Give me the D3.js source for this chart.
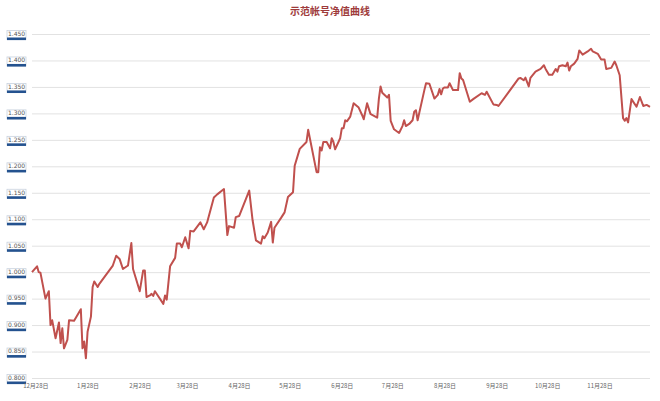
<!DOCTYPE html>
<html>
<head>
<meta charset="utf-8">
<script src="https://cdn.jsdelivr.net/npm/d3@7"></script>
<style>
  body { margin: 0; background: #fff; }
</style>
</head>
<body>
<div id="chart"></div>
<script>
// chart title
const title = "示范帐号净值曲线";

// trading dates of the net value curve
const dates = [
  "2014-12-26", "2014-12-29", "2014-12-30", "2014-12-31", "2015-01-03", "2015-01-05", "2015-01-06", "2015-01-07",
  "2015-01-09", "2015-01-11", "2015-01-12", "2015-01-13", "2015-01-14", "2015-01-16", "2015-01-17", "2015-01-20",
  "2015-01-24", "2015-01-25", "2015-01-26", "2015-01-27", "2015-01-28", "2015-01-30", "2015-01-31", "2015-02-01",
  "2015-02-03", "2015-02-04", "2015-02-12", "2015-02-14", "2015-02-16", "2015-02-18", "2015-02-21", "2015-02-23",
  "2015-02-24", "2015-02-28", "2015-03-02", "2015-03-03", "2015-03-04", "2015-03-06", "2015-03-07", "2015-03-08",
  "2015-03-09", "2015-03-14", "2015-03-15", "2015-03-16", "2015-03-18", "2015-03-21", "2015-03-22", "2015-03-24",
  "2015-03-25", "2015-03-27", "2015-03-29", "2015-03-30", "2015-04-01", "2015-04-05", "2015-04-07", "2015-04-09",
  "2015-04-13", "2015-04-15", "2015-04-19", "2015-04-21", "2015-04-22", "2015-04-25", "2015-04-26", "2015-04-28",
  "2015-05-04", "2015-05-06", "2015-05-08", "2015-05-11", "2015-05-12", "2015-05-13", "2015-05-15", "2015-05-17",
  "2015-05-18", "2015-05-19", "2015-05-23", "2015-05-25", "2015-05-27", "2015-05-30", "2015-05-31", "2015-06-03",
  "2015-06-07", "2015-06-08", "2015-06-13", "2015-06-14", "2015-06-15", "2015-06-16", "2015-06-17", "2015-06-19",
  "2015-06-21", "2015-06-22", "2015-06-23", "2015-06-24", "2015-06-27", "2015-06-28", "2015-06-29", "2015-06-30",
  "2015-07-01", "2015-07-03", "2015-07-05", "2015-07-08", "2015-07-10", "2015-07-11", "2015-07-13", "2015-07-15",
  "2015-07-16", "2015-07-19", "2015-07-20", "2015-07-21", "2015-07-22", "2015-07-25", "2015-07-26", "2015-07-27",
  "2015-07-29", "2015-08-01", "2015-08-03", "2015-08-04", "2015-08-05", "2015-08-07", "2015-08-09", "2015-08-10",
  "2015-08-11", "2015-08-12", "2015-08-16", "2015-08-17", "2015-08-19", "2015-08-22", "2015-08-24", "2015-08-25",
  "2015-08-26", "2015-08-27", "2015-08-28", "2015-08-30", "2015-08-31", "2015-09-02", "2015-09-05", "2015-09-06",
  "2015-09-07", "2015-09-08", "2015-09-12", "2015-09-14", "2015-09-19", "2015-09-21", "2015-09-22", "2015-09-26",
  "2015-09-28", "2015-09-29", "2015-10-11", "2015-10-12", "2015-10-14", "2015-10-15", "2015-10-17", "2015-10-18",
  "2015-10-21", "2015-10-24", "2015-10-26", "2015-10-27", "2015-10-29", "2015-10-31", "2015-11-02", "2015-11-03",
  "2015-11-04", "2015-11-06", "2015-11-08", "2015-11-09", "2015-11-10", "2015-11-11", "2015-11-13", "2015-11-15",
  "2015-11-16", "2015-11-18", "2015-11-21", "2015-11-23", "2015-11-24", "2015-11-27", "2015-11-29", "2015-12-01",
  "2015-12-02", "2015-12-05", "2015-12-07", "2015-12-08", "2015-12-10", "2015-12-12", "2015-12-13", "2015-12-14",
  "2015-12-15", "2015-12-17", "2015-12-20", "2015-12-22", "2015-12-24", "2015-12-26", "2015-12-28"
];

// net value on each date
const netValues = [
  1.000, 1.011, 1.000, 0.999, 0.950, 0.964, 0.900, 0.909,
  0.875, 0.905, 0.866, 0.894, 0.856, 0.872, 0.909, 0.908,
  0.930, 0.856, 0.869, 0.8375, 0.8875, 0.916, 0.972, 0.9825,
  0.972, 0.978, 1.0125, 1.031, 1.025, 1.006, 1.0125, 1.055,
  1.006, 0.964, 1.003, 1.003, 0.953, 0.956, 0.959, 0.955,
  0.964, 0.940, 0.956, 0.948, 1.011, 1.027, 1.054, 1.054,
  1.047, 1.066, 1.045, 1.078, 1.077, 1.094, 1.081, 1.094,
  1.141, 1.147, 1.157, 1.070, 1.087, 1.084, 1.104, 1.106,
  1.154, 1.098, 1.060, 1.054, 1.068, 1.064, 1.075, 1.095,
  1.056, 1.084, 1.103, 1.113, 1.142, 1.151, 1.201, 1.233,
  1.246, 1.269, 1.189, 1.189, 1.236, 1.230, 1.246, 1.246,
  1.234, 1.253, 1.246, 1.232, 1.253, 1.272, 1.272, 1.287,
  1.285, 1.294, 1.319, 1.311, 1.297, 1.289, 1.319, 1.299,
  1.297, 1.292, 1.328, 1.351, 1.339, 1.330, 1.335, 1.286,
  1.270, 1.263, 1.276, 1.287, 1.276, 1.280, 1.287, 1.303,
  1.306, 1.287, 1.344, 1.357, 1.356, 1.328, 1.335, 1.346,
  1.336, 1.347, 1.349, 1.349, 1.357, 1.344, 1.344, 1.376,
  1.366, 1.363, 1.322, 1.327, 1.338, 1.335, 1.341, 1.317,
  1.316, 1.314, 1.366, 1.367, 1.3625, 1.3675, 1.351, 1.367,
  1.379, 1.384, 1.391, 1.384, 1.373, 1.373, 1.384, 1.379,
  1.389, 1.391, 1.389, 1.396, 1.381, 1.389, 1.394, 1.403,
  1.419, 1.411, 1.417, 1.422, 1.417, 1.4125, 1.402, 1.402,
  1.384, 1.386, 1.398, 1.391, 1.372, 1.291, 1.286, 1.291,
  1.283, 1.327, 1.3125, 1.331, 1.314, 1.316, 1.3125
];

// y axis tick values
const yTicks = [0.80, 0.85, 0.90, 0.95, 1.00, 1.05, 1.10, 1.15, 1.20, 1.25, 1.30, 1.35, 1.40, 1.45];

// x axis tick dates (28th of every month)
const xTicks = [
  "2014-12-28", "2015-01-28", "2015-02-28", "2015-03-28", "2015-04-28", "2015-05-28",
  "2015-06-28", "2015-07-28", "2015-08-28", "2015-09-28", "2015-10-28", "2015-11-28"
];

const width = 660;
const height = 401;
const margin = { top: 34, right: 10, bottom: 23, left: 32 };
const innerW = width - margin.left - margin.right;
const innerH = height - margin.top - margin.bottom;

const parse = d3.timeParse("%Y-%m-%d");
const data = dates.map((d, i) => ({ date: parse(d), value: netValues[i] }));

let svg = d3.select("#chart")
    .append("svg")
    .attr("width", width)
    .attr("height", height)
    .style("font-family", "'DejaVu Sans', sans-serif");

// title
svg.append("text")
    .attr("x", width / 2)
    .attr("y", 15)
    .style("text-anchor", "middle")
    .style("font-family", "'Noto Sans CJK SC', sans-serif")
    .style("font-size", "10px")
    .style("font-weight", "bold")
    .attr("fill", "#9e3b3b")
    .text(title);

let g = svg.append("g")
    .attr("transform", `translate(${margin.left}, ${margin.top})`);

// time scale on x
let x = d3.scaleTime()
    .domain(d3.extent(data, d => d.date))
    .range([0, innerW]);

// linear scale on y
let y = d3.scaleLinear()
    .domain([d3.min(yTicks), d3.max(yTicks)])
    .range([innerH, 0]);

// horizontal grid lines
g.append("g")
    .call(d3.axisLeft(y).tickValues(yTicks).tickSize(-innerW).tickFormat(""))
    .call(a => a.select(".domain").remove())
    .call(a => a.selectAll("line").attr("stroke", "#e2e2e2").attr("stroke-width", 1));

// y labels drawn as little boxes with a blue bar under them
let yLab = g.append("g")
    .selectAll("g")
    .data(yTicks)
    .enter()
    .append("g")
    .attr("transform", d => `translate(-25, ${y(d)})`);

yLab.append("rect")
    .attr("x", 0)
    .attr("y", -3.5)
    .attr("width", 19)
    .attr("height", 9)
    .attr("fill", "#fff")
    .attr("stroke", "#c9d2de")
    .attr("stroke-width", 0.8);

yLab.append("rect")
    .attr("x", 0)
    .attr("y", 3.5)
    .attr("width", 19)
    .attr("height", 2.6)
    .attr("fill", "#24528f");

yLab.append("text")
    .attr("x", 9.5)
    .attr("y", 0)
    .attr("dy", "0.3em")
    .style("text-anchor", "middle")
    .style("font-size", "6px")
    .attr("fill", "#555")
    .text(d => d3.format(".3f")(d));

// x labels
let fmt = d3.timeFormat("%-m月%d日");
g.append("g")
    .attr("transform", `translate(0, ${innerH})`)
    .call(d3.axisBottom(x).tickValues(xTicks.map(parse)).tickSize(0).tickPadding(6).tickFormat(fmt))
    .call(a => a.select(".domain").remove())
    .call(a => a.selectAll("text")
        .style("font-size", "6px")
        .style("font-family", "'Noto Sans CJK SC', sans-serif")
        .attr("fill", "#666"));

// net value line
let line = d3.line()
    .x(d => x(d.date))
    .y(d => y(d.value));

g.append("path")
    .datum(data)
    .attr("fill", "none")
    .attr("stroke", "#c0504d")
    .attr("stroke-width", 2)
    .attr("stroke-linejoin", "round")
    .attr("d", line);
</script>
</body>
</html>
